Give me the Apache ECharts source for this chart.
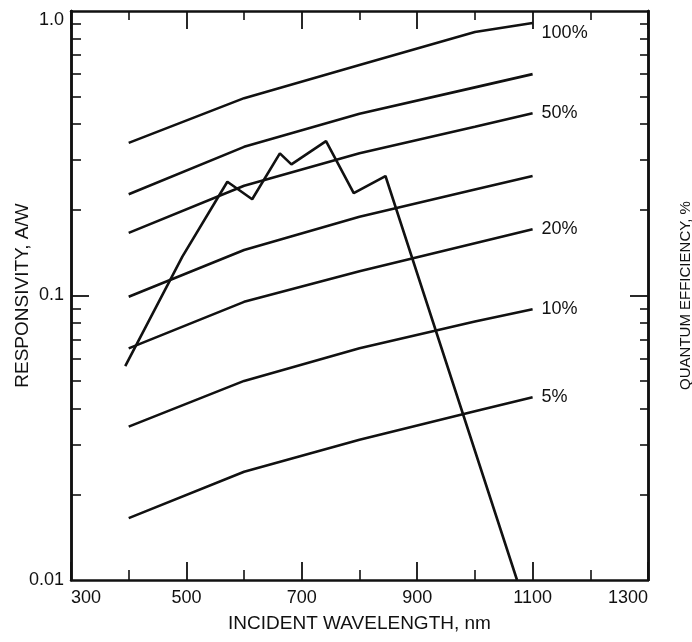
<!DOCTYPE html>
<html>
<head>
<meta charset="utf-8">
<script src="https://cdn.jsdelivr.net/npm/echarts@6/dist/echarts.min.js"></script>
<style>
  html, body { margin: 0; padding: 0; background: #fff; }
  #chart { width: 692px; height: 642px; }
</style>
</head>
<body>
<div id="chart"></div>
<script>
// quantum efficiency reference lines
var qeWavelength = [400, 600, 800, 1000, 1100];
var qe100 = [0.344, 0.494, 0.646, 0.844, 0.908];
var qe70 = [0.227, 0.333, 0.435, 0.539, 0.600];
var qe50 = [0.166, 0.243, 0.316, 0.392, 0.437];
var qe30 = [0.099, 0.1445, 0.189, 0.236, 0.263];
var qe20 = [0.0652, 0.095, 0.1216, 0.1525, 0.171];
var qe10 = [0.0346, 0.0501, 0.0652, 0.081, 0.0894];
var qe5 = [0.0165, 0.024, 0.0311, 0.0392, 0.0439];

// photodiode responsivity
var diodeWavelength = [394, 493, 571, 614, 662, 682, 742, 790, 845, 1073];
var diodeResp = [0.0565, 0.137, 0.251, 0.218, 0.316, 0.289, 0.349, 0.229, 0.263, 0.01];

var yMajorTicks = [0.1];
var yMinorTicks = [0.02, 0.03, 0.04, 0.05, 0.06, 0.07, 0.08, 0.09,
                   0.2, 0.3, 0.4, 0.5, 0.6, 0.7, 0.8, 0.9];

var ink = '#111';
var font = 'Liberation Sans, Arial, Helvetica, sans-serif';

function pairs(xs, ys) {
  return xs.map(function(x, i) { return [x, ys[i]]; });
}

function qeLine(name, values, labelText, offset) {
  return {
    type: 'line',
    name: name,
    data: pairs(qeWavelength, values),
    symbol: 'none',
    lineStyle: { color: ink, width: 2.6 },
    endLabel: {
      show: !!labelText,
      formatter: labelText || '',
      distance: 9,
      offset: offset || [0, 0],
      color: ink,
      fontSize: 18,
      fontFamily: font
    },
    z: 2
  };
}

function yAxisBase(pos) {
  return {
    type: 'log',
    logBase: 10,
    min: 0.01,
    max: 1,
    position: pos,
    splitLine: { show: false },
    axisLine: { show: true, lineStyle: { color: ink, width: 2.5 } }
  };
}

var chart = echarts.init(document.getElementById('chart'), null, { renderer: 'canvas' });

var yLeft = yAxisBase('left');
yLeft.name = 'RESPONSIVITY, A/W';
yLeft.nameLocation = 'middle';
yLeft.nameGap = 39;
yLeft.nameMoveOverlap = false;
yLeft.nameTextStyle = { color: ink, fontSize: 19, fontFamily: font };
yLeft.axisTick = { show: true, inside: true, length: 18, customValues: yMajorTicks, lineStyle: { color: ink, width: 1.8 } };
yLeft.axisLabel = {
  color: ink, fontSize: 18, fontFamily: font, margin: 7,
  formatter: function(v) {
    if (v > 0.5) return '{top|1.0}';
    if (v > 0.05) return '0.1';
    return '0.01';
  },
  rich: { top: { padding: [18, 0, 0, 0], fontSize: 18, fontFamily: font, color: ink } }
};

var yLeftMinor = yAxisBase('left');
yLeftMinor.axisLabel = { show: false };
yLeftMinor.axisTick = { show: true, inside: true, length: 10, customValues: yMinorTicks, lineStyle: { color: ink, width: 1.6 } };

var yRight = yAxisBase('right');
yRight.name = 'QUANTUM EFFICIENCY, %';
yRight.nameLocation = 'middle';
yRight.nameGap = 30;
yRight.nameMoveOverlap = false;
yRight.nameRotate = 90;
yRight.nameTextStyle = { color: ink, fontSize: 15, fontFamily: font };
yRight.axisLabel = { show: false };
yRight.axisTick = { show: true, inside: true, length: 18, customValues: yMajorTicks, lineStyle: { color: ink, width: 1.8 } };

var yRightMinor = yAxisBase('right');
yRightMinor.axisLabel = { show: false };
yRightMinor.axisTick = { show: true, inside: true, length: 8, customValues: yMinorTicks, lineStyle: { color: ink, width: 1.6 } };

chart.setOption({
  animation: false,
  backgroundColor: '#fff',
  grid: { left: 71, right: 44, top: 11, bottom: 62, containLabel: false, outerBoundsMode: 'none' },
  xAxis: [{
    type: 'value',
    min: 300,
    max: 1300,
    interval: 200,
    position: 'bottom',
    name: 'INCIDENT WAVELENGTH, nm',
    nameLocation: 'middle',
    nameGap: 34,
    nameMoveOverlap: false,
    nameTextStyle: { color: ink, fontSize: 19, fontFamily: font },
    splitLine: { show: false },
    axisLine: { show: true, lineStyle: { color: ink, width: 2.5 } },
    axisTick: { show: true, inside: true, length: 18, lineStyle: { color: ink, width: 1.8 } },
    minorTick: { show: true, splitNumber: 2, length: 10, lineStyle: { color: ink, width: 1.6 } },
    axisLabel: {
      color: ink, fontSize: 18, fontFamily: font, margin: 9,
      alignMinLabel: 'left', alignMaxLabel: 'right',
      formatter: function(v) { return String(v); }
    }
  }, {
    type: 'value',
    min: 300,
    max: 1300,
    interval: 200,
    position: 'top',
    splitLine: { show: false },
    axisLine: { show: true, lineStyle: { color: ink, width: 2.5 } },
    axisTick: { show: true, inside: true, length: 18, lineStyle: { color: ink, width: 1.8 } },
    minorTick: { show: true, splitNumber: 2, length: 9, lineStyle: { color: ink, width: 1.6 } },
    axisLabel: { show: false }
  }],
  yAxis: [yLeft, yLeftMinor, yRight, yRightMinor],
  series: [
    qeLine('100%', qe100, '100%', [0, 10]),
    qeLine('70%', qe70, null),
    qeLine('50%', qe50, '50%'),
    qeLine('30%', qe30, null),
    qeLine('20%', qe20, '20%'),
    qeLine('10%', qe10, '10%'),
    qeLine('5%', qe5, '5%'),
    {
      type: 'line',
      name: 'responsivity',
      data: pairs(diodeWavelength, diodeResp),
      symbol: 'none',
      lineStyle: { color: ink, width: 2.6 },
      z: 3
    }
  ]
});
window.addEventListener('resize', function() { chart.resize(); });
</script>
</body>
</html>
